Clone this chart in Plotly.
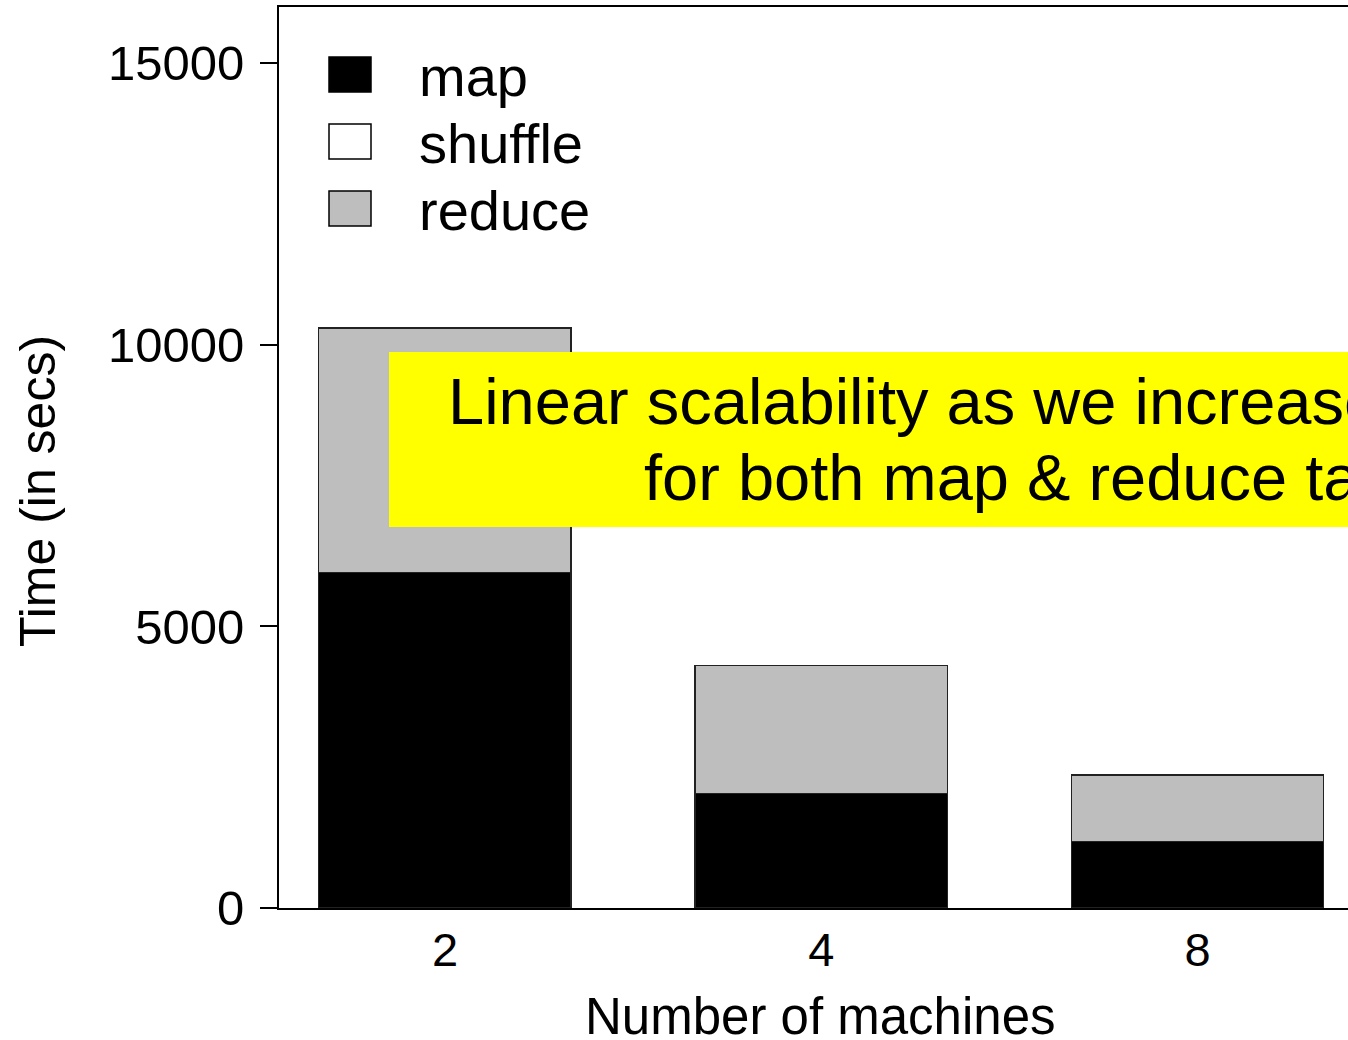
import plotly.graph_objects as go

# ---- data ----
machines = ["2", "4", "8"]
map_time = [5960, 2035, 1185]
shuffle_time = [0, 0, 0]
reduce_time = [4340, 2270, 1175]
series_names = ["map", "shuffle", "reduce"]
series_colors = ["#000000", "#FFFFFF", "#BEBEBE"]
y_ticks = [0, 5000, 10000, 15000]
note_line1 = "Linear scalability as we increase # of machines"
note_line2 = "for both map & reduce tasks"

FONT = "Liberation Sans, Arial, sans-serif"
W, H = 1348, 1040
L, R, T, B = 279, 0, 7, 132
PW, PH = W - L - R, H - T - B


def px(x):
    return (x - L) / PW


def py(y):
    return (H - B - y) / PH


fig = go.Figure()
for name, vals, col in zip(series_names, [map_time, shuffle_time, reduce_time], series_colors):
    fig.add_trace(go.Bar(
        x=machines, y=vals, name=name,
        marker=dict(color=col, line=dict(color="#222222", width=1.5)),
        showlegend=False,
    ))

shapes = []
annotations = []

# manual legend
leg_rows = [(57, 92), (124, 159), (191, 226)]
for (y0, y1), name, col in zip(leg_rows, series_names, series_colors):
    shapes.append(dict(type="rect", xref="paper", yref="paper",
                       x0=px(329), x1=px(371), y0=py(y1), y1=py(y0),
                       fillcolor=col, line=dict(color="#000000", width=1.5), layer="above"))
    annotations.append(dict(xref="paper", yref="paper", x=px(417), y=py((y0 + y1) / 2 + 2),
                            xanchor="left", yanchor="middle", text=name, showarrow=False,
                            font=dict(family=FONT, size=56, color="#000000")))

# yellow note box
shapes.append(dict(type="rect", xref="paper", yref="paper",
                   x0=px(389), x1=px(1600), y0=py(527), y1=py(352),
                   fillcolor="#FFFF00", line=dict(width=0), layer="above"))
annotations.append(dict(xref="paper", yref="paper", x=px(446), y=py(402),
                        xanchor="left", yanchor="middle", text=note_line1, showarrow=False,
                        font=dict(family=FONT, size=65, color="#000000")))
annotations.append(dict(xref="paper", yref="paper", x=px(642), y=py(477),
                        xanchor="left", yanchor="middle", text=note_line2, showarrow=False,
                        font=dict(family=FONT, size=65, color="#000000")))

# axis titles
annotations.append(dict(xref="paper", yref="paper", x=px(38), y=py(491),
                        xanchor="center", yanchor="middle", text="Time (in secs)", textangle=-90,
                        showarrow=False, font=dict(family=FONT, size=50, color="#000000")))
annotations.append(dict(xref="paper", yref="paper", x=px(820), y=py(1016),
                        xanchor="center", yanchor="middle", text="Number of machines",
                        showarrow=False, font=dict(family=FONT, size=51, color="#000000")))

fig.update_layout(
    width=W, height=H,
    margin=dict(l=L, r=R, t=T, b=B, pad=0),
    barmode="stack", bargap=0.329,
    paper_bgcolor="#FFFFFF", plot_bgcolor="#FFFFFF",
    font=dict(family=FONT, color="#000000"),
    shapes=shapes, annotations=annotations,
    xaxis=dict(type="category", range=[-0.441, 2.400], showline=True, mirror=True,
               linecolor="#000000", linewidth=2, ticks="", showgrid=False, zeroline=False,
               tickfont=dict(family=FONT, size=47, color="#000000"), ticklabelstandoff=0),
    yaxis=dict(range=[0, 16000], tickvals=y_ticks, ticktext=[str(v) for v in y_ticks],
               showline=True, linecolor="#000000", linewidth=2, ticks="outside",
               ticklen=17, tickwidth=2, tickcolor="#000000", showgrid=False, zeroline=False,
               tickfont=dict(family=FONT, size=49, color="#000000"), ticklabelstandoff=6),
)

fig.write_html("out.html")
